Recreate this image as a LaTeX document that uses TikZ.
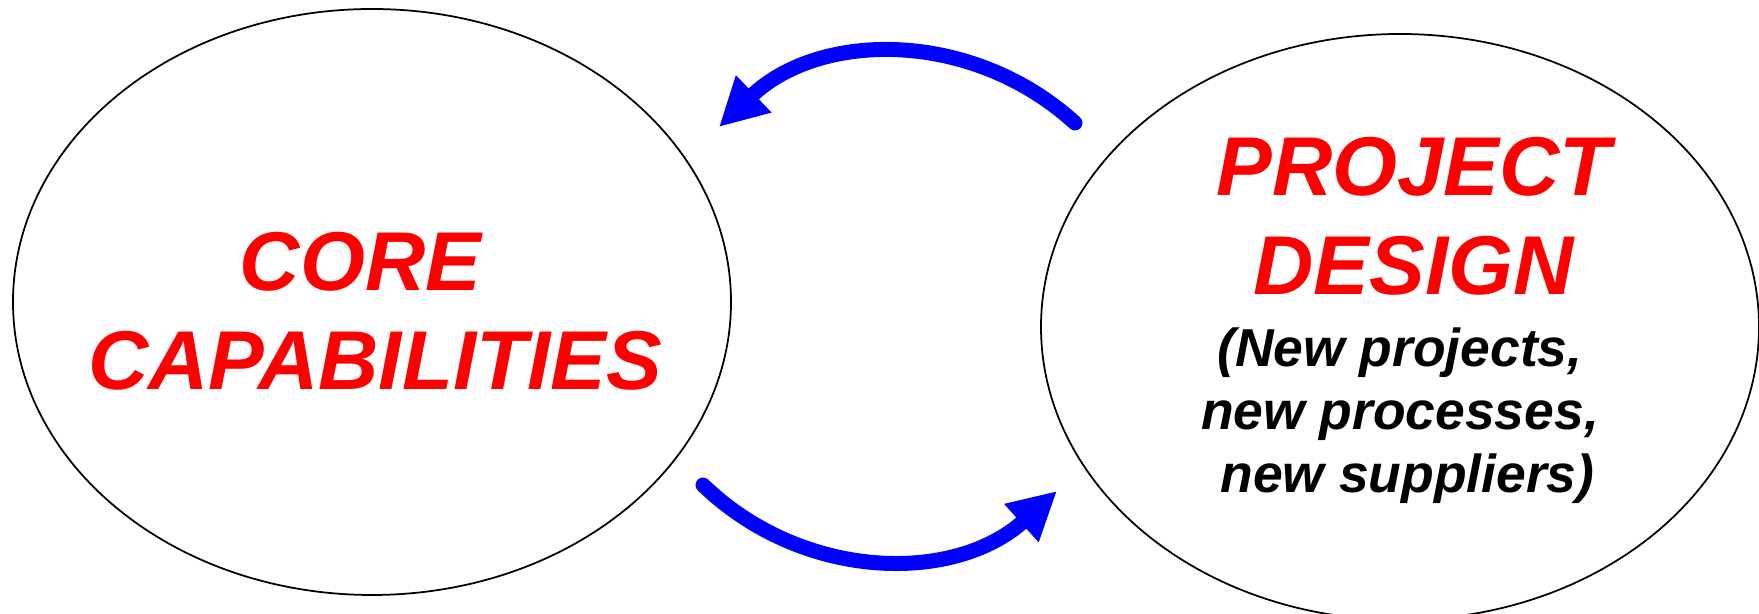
\documentclass[tikz,border=0pt]{standalone}
\usepackage{fontspec}
\setmainfont{Liberation Sans}
\usetikzlibrary{arrows.meta,positioning,shapes.geometric,calc}

\begin{document}
\begin{tikzpicture}[
    circ/.style={draw, ellipse, line width=1pt, minimum width=14.36cm,
      minimum height=11.72cm, inner sep=0pt},
    captxt/.style={align=center, text=red, inner sep=0pt,
      font=\fontsize{47.5pt}{56.3pt}\selectfont\bfseries\itshape},
    subtxt/.style={align=center, inner sep=0pt,
      font=\fontsize{30.4pt}{35.9pt}\selectfont\bfseries\itshape},
    flow/.style={-{Triangle[length=0.96cm, width=0.96cm]}, blue,
      line width=0.3cm, line cap=round}
  ]
    \useasboundingbox (0,0) rectangle (35.18,12.28);
    \node[circ] (core) at (7.44,6.24) {};
    \node[circ] (design) at (28.0,5.74) {};
    \node[captxt] (coretxt) at (7.50,6.05) {CORE\hspace*{0.35em}\\CAPABILITIES};
    \node[captxt] (designtxt) at (28.27,7.96) {PROJECT\\DESIGN};
    \node[subtxt] (newtxt) at (28.0,3.96)
      {(New projects,\\new processes,\\\hspace*{0.28em}new suppliers)};
    \coordinate (t1) at (21.50,9.82);
    \coordinate (t2) at (14.38,9.74);
    \coordinate (b1) at (14.06,2.58);
    \coordinate (b2) at (21.14,2.46);
    \draw[flow] (t1) to[bend right=43] (t2);
    \draw[flow] (b1) to[bend right=43] (b2);
  \end{tikzpicture}
\end{document}
